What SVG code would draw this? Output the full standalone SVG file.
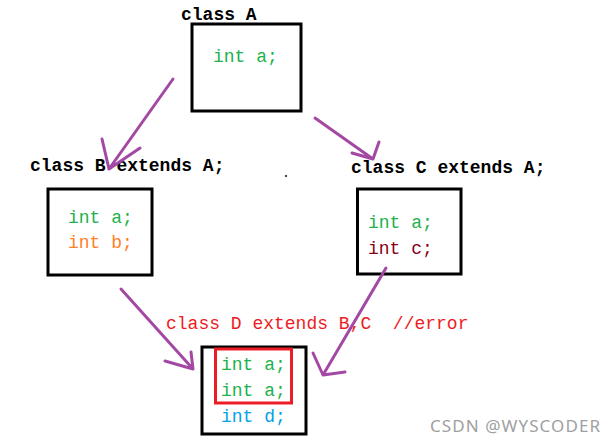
<svg xmlns="http://www.w3.org/2000/svg" width="616" height="444" viewBox="0 0 616 444">
<style>
.t{font-family:"Liberation Mono","DejaVu Sans Mono",monospace;font-size:18px;white-space:pre}
.lbl{fill:#000;font-weight:bold}
.box{fill:none;stroke:#000;stroke-width:3}
.arr{fill:none;stroke:#a349a4;stroke-width:3;stroke-linecap:round;stroke-linejoin:round}
.g{fill:#22b14c}
</style>
<rect width="616" height="444" fill="#fff"/>
<g id="classA">
<text class="t lbl" x="181" y="20">class A</text>
<rect class="box" x="192" y="24" width="109" height="87"/>
<text class="t g" x="213" y="62">int a;</text>
</g>
<g id="classB">
<text class="t lbl" x="30" y="171">class B extends A;</text>
<rect class="box" x="48" y="189" width="104" height="86"/>
<text class="t g" x="68" y="223">int a;</text>
<text class="t" x="68" y="248" fill="#ff7f27">int b;</text>
</g>
<g id="classC">
<text class="t lbl" x="351" y="173">class C extends A;</text>
<rect class="box" x="357.5" y="189" width="103.5" height="85"/>
<text class="t g" x="368" y="228">int a;</text>
<text class="t" x="368" y="254" fill="#880015">int c;</text>
</g>
<g id="classD">
<text class="t" x="166" y="329" fill="#ed1c24" xml:space="preserve">class D extends B,C  //error</text>
<rect class="box" x="202" y="347" width="104" height="87"/>
<rect x="215.5" y="349" width="76" height="54" fill="none" stroke="#ed1c24" stroke-width="3"/>
<text class="t g" x="221" y="370">int a;</text>
<text class="t g" x="221" y="396">int a;</text>
<text class="t" x="221" y="422" fill="#00a2e8">int d;</text>
</g>
<g id="connectors">
<path class="arr" d="M173 79 L109 169 M102 139 L109 169 L140 148"/>
<path class="arr" d="M315 118 L373 159 M379 142 L373 159 L352 153"/>
<path class="arr" d="M121 289 L193 369 M191 352 L193 369 L165 361"/>
<path class="arr" d="M386 268 L323 375 M313 353 L323 375 L345 372"/>
</g>
<rect x="285" y="175" width="2" height="2" fill="#444"/>
<text x="430" y="432" font-family="'Noto Sans','Open Sans',sans-serif" font-size="17" fill="#a0a0a0" textLength="170">CSDN @WYSCODER</text>
</svg>
